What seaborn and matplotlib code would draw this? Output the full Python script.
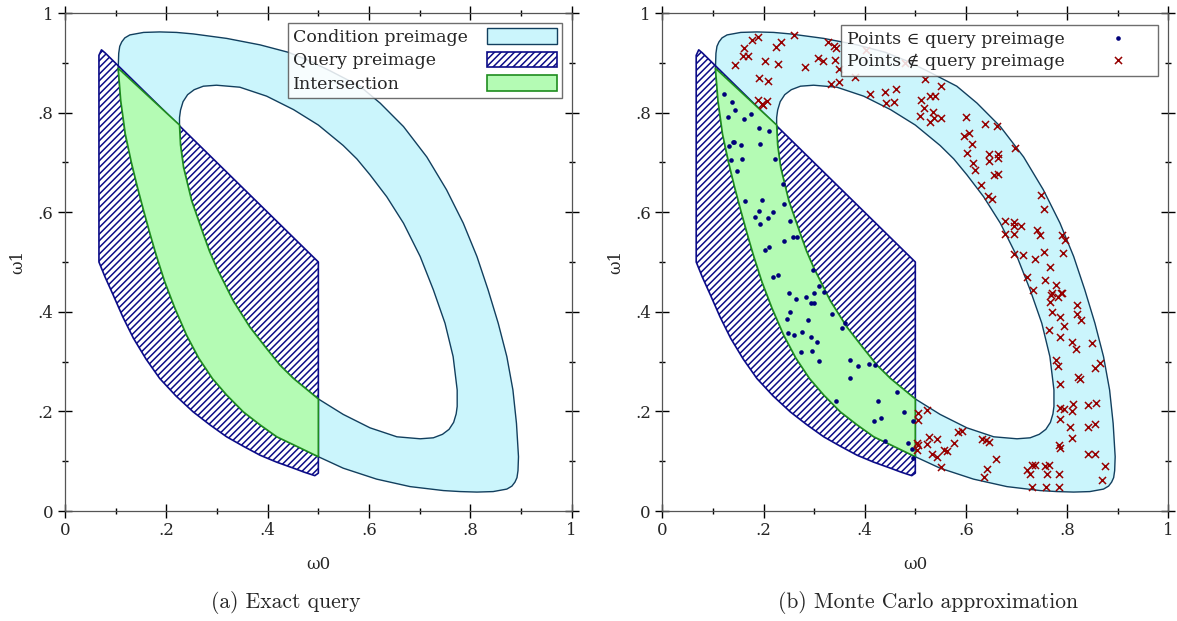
import numpy as np
import matplotlib.pyplot as plt
import matplotlib.patches as mpatches
from matplotlib.path import Path
import seaborn as sns

# outline of the condition preimage (outer edge and hole)
ring_outer_x = [0.105, 0.106, 0.108, 0.112, 0.118, 0.128, 0.155, 0.187, 0.220, 0.253,
                0.319, 0.385, 0.441, 0.480, 0.523, 0.582, 0.622, 0.668, 0.714, 0.753,
                0.786, 0.813, 0.835, 0.855, 0.872, 0.884, 0.891, 0.895, 0.894, 0.892,
                0.888, 0.882, 0.872, 0.845, 0.813, 0.780, 0.747, 0.681, 0.615, 0.549,
                0.500, 0.451, 0.418, 0.385, 0.352, 0.319, 0.291, 0.264, 0.240, 0.217,
                0.197, 0.180, 0.168, 0.155, 0.143, 0.131, 0.119, 0.110, 0.105]
ring_outer_y = [0.889, 0.919, 0.933, 0.942, 0.950, 0.956, 0.961, 0.962, 0.961, 0.958,
                0.949, 0.936, 0.921, 0.905, 0.884, 0.853, 0.819, 0.772, 0.711, 0.645,
                0.578, 0.511, 0.444, 0.377, 0.310, 0.243, 0.176, 0.109, 0.081, 0.067,
                0.058, 0.050, 0.044, 0.039, 0.038, 0.039, 0.041, 0.049, 0.064, 0.086,
                0.109, 0.133, 0.149, 0.173, 0.199, 0.233, 0.266, 0.307, 0.353, 0.407,
                0.460, 0.514, 0.556, 0.604, 0.650, 0.700, 0.757, 0.824, 0.889]
ring_inner_x = [0.226, 0.226, 0.228, 0.233, 0.242, 0.255, 0.273, 0.299, 0.345, 0.398,
                0.451, 0.500, 0.549, 0.576, 0.602, 0.635, 0.668, 0.701, 0.727, 0.750,
                0.766, 0.774, 0.774, 0.772, 0.767, 0.758, 0.745, 0.727, 0.701, 0.655,
                0.602, 0.549, 0.500, 0.451, 0.424, 0.398, 0.365, 0.332, 0.299, 0.285,
                0.273, 0.250, 0.234, 0.228, 0.226]
ring_inner_y = [0.775, 0.790, 0.805, 0.822, 0.836, 0.846, 0.853, 0.855, 0.851, 0.833,
                0.806, 0.775, 0.734, 0.707, 0.675, 0.631, 0.578, 0.511, 0.444, 0.377,
                0.310, 0.243, 0.210, 0.195, 0.178, 0.164, 0.154, 0.147, 0.145, 0.149,
                0.167, 0.194, 0.225, 0.266, 0.293, 0.326, 0.369, 0.422, 0.489, 0.522,
                0.556, 0.623, 0.690, 0.735, 0.775]

# query preimage outline
query_x = [0.067, 0.067, 0.072, 0.079, 0.500, 0.500, 0.493, 0.472, 0.451, 0.418, 0.385,
           0.352, 0.319, 0.286, 0.253, 0.219, 0.187, 0.160, 0.135, 0.114, 0.095, 0.079, 0.067]
query_y = [0.500, 0.915, 0.926, 0.920, 0.500, 0.076, 0.071, 0.078, 0.086, 0.098, 0.112,
           0.130, 0.149, 0.173, 0.199, 0.231, 0.266, 0.305, 0.347, 0.390, 0.434, 0.470, 0.500]

# intersection outline
inter_x = [0.105, 0.226, 0.228, 0.234, 0.250, 0.273, 0.285, 0.299, 0.332, 0.365, 0.398,
           0.424, 0.451, 0.500, 0.500, 0.451, 0.418, 0.385, 0.352, 0.319, 0.291, 0.264,
           0.240, 0.217, 0.197, 0.180, 0.168, 0.155, 0.143, 0.131, 0.119, 0.110, 0.105]
inter_y = [0.889, 0.775, 0.735, 0.690, 0.623, 0.556, 0.522, 0.489, 0.422, 0.369, 0.326,
           0.293, 0.266, 0.225, 0.109, 0.133, 0.149, 0.173, 0.199, 0.233, 0.266, 0.307,
           0.353, 0.407, 0.460, 0.514, 0.556, 0.604, 0.650, 0.700, 0.757, 0.824, 0.889]

# Monte Carlo samples
pts_in_x = [0.121, 0.138, 0.143, 0.129, 0.161, 0.175, 0.192, 0.211, 0.193, 0.132, 0.139,
            0.142, 0.155, 0.136, 0.158, 0.222, 0.148, 0.238, 0.164, 0.197, 0.192, 0.218,
            0.240, 0.183, 0.194, 0.209, 0.252, 0.240, 0.258, 0.267, 0.211, 0.202, 0.297,
            0.229, 0.219, 0.310, 0.320, 0.251, 0.265, 0.284, 0.299, 0.300, 0.293, 0.246,
            0.252, 0.287, 0.248, 0.260, 0.276, 0.293, 0.306, 0.275, 0.296, 0.310, 0.335,
            0.355, 0.362, 0.370, 0.371, 0.387, 0.408, 0.420, 0.344, 0.426, 0.464, 0.477,
            0.418, 0.432, 0.495, 0.441, 0.486, 0.494, 0.495]
pts_in_y = [0.837, 0.822, 0.805, 0.791, 0.787, 0.797, 0.769, 0.764, 0.736, 0.732, 0.740,
            0.740, 0.734, 0.704, 0.706, 0.707, 0.682, 0.656, 0.622, 0.625, 0.603, 0.600,
            0.617, 0.591, 0.577, 0.588, 0.583, 0.542, 0.550, 0.550, 0.530, 0.525, 0.484,
            0.474, 0.469, 0.452, 0.440, 0.438, 0.426, 0.430, 0.437, 0.418, 0.418, 0.385,
            0.399, 0.383, 0.358, 0.354, 0.360, 0.350, 0.339, 0.319, 0.322, 0.302, 0.395,
            0.368, 0.377, 0.303, 0.268, 0.292, 0.295, 0.293, 0.221, 0.220, 0.238, 0.199,
            0.181, 0.187, 0.181, 0.140, 0.136, 0.124, 0.107]
pts_out_x = [0.144, 0.162, 0.177, 0.190, 0.160, 0.170, 0.202, 0.229, 0.224, 0.234, 0.261,
             0.192, 0.209, 0.190, 0.197, 0.207, 0.199, 0.283, 0.308, 0.318, 0.327, 0.339,
             0.343, 0.342, 0.349, 0.333, 0.350, 0.381, 0.403, 0.410, 0.440, 0.462, 0.443,
             0.457, 0.480, 0.519, 0.550, 0.512, 0.518, 0.530, 0.538, 0.534, 0.509, 0.530,
             0.536, 0.551, 0.600, 0.597, 0.607, 0.612, 0.603, 0.638, 0.661, 0.698, 0.615,
             0.617, 0.646, 0.630, 0.644, 0.652, 0.646, 0.663, 0.663, 0.656, 0.664, 0.749,
             0.754, 0.678, 0.696, 0.696, 0.708, 0.678, 0.696, 0.740, 0.746, 0.789, 0.796,
             0.696, 0.712, 0.737, 0.754, 0.792, 0.766, 0.720, 0.756, 0.733, 0.779, 0.771,
             0.789, 0.782,
             0.766, 0.769, 0.787, 0.771, 0.786, 0.794, 0.765, 0.785, 0.809, 0.818, 0.820,
             0.820, 0.828, 0.850, 0.779, 0.782, 0.786, 0.786, 0.794, 0.786, 0.806, 0.809,
             0.812, 0.810, 0.821, 0.825, 0.855, 0.865, 0.841, 0.857, 0.841, 0.856, 0.841,
             0.855, 0.874, 0.868, 0.784, 0.786, 0.784, 0.784, 0.759, 0.760, 0.765, 0.756,
             0.730, 0.730, 0.720, 0.727, 0.737, 0.659, 0.636, 0.642, 0.639, 0.646, 0.632,
             0.592, 0.585, 0.577, 0.563, 0.556, 0.543, 0.551, 0.533, 0.524, 0.527, 0.543,
             0.505, 0.505, 0.523, 0.504, 0.506, 0.504]
pts_out_y = [0.896, 0.930, 0.946, 0.951, 0.914, 0.913, 0.903, 0.898, 0.932, 0.942, 0.955,
             0.870, 0.864, 0.825, 0.817, 0.823, 0.815, 0.892, 0.910, 0.904, 0.942, 0.934,
             0.930, 0.905, 0.888, 0.858, 0.862, 0.872, 0.925, 0.837, 0.842, 0.847, 0.820,
             0.821, 0.900, 0.868, 0.854, 0.825, 0.810, 0.833, 0.833, 0.801, 0.794, 0.781,
             0.790, 0.789, 0.791, 0.753, 0.759, 0.736, 0.718, 0.777, 0.773, 0.729, 0.698,
             0.684, 0.702, 0.654, 0.632, 0.627, 0.716, 0.716, 0.708, 0.674, 0.676, 0.635,
             0.607, 0.582, 0.581, 0.573, 0.573, 0.557, 0.557, 0.564, 0.554, 0.554, 0.544,
             0.517, 0.514, 0.506, 0.520, 0.518, 0.490, 0.470, 0.464, 0.443, 0.453, 0.437,
             0.437, 0.430,
             0.419, 0.434, 0.438, 0.400, 0.389, 0.372, 0.364, 0.349, 0.340, 0.325, 0.414,
             0.395, 0.384, 0.337, 0.303, 0.291, 0.256, 0.206, 0.205, 0.184, 0.169, 0.146,
             0.215, 0.200, 0.270, 0.266, 0.287, 0.297, 0.213, 0.216, 0.169, 0.174, 0.115,
             0.115, 0.090, 0.063, 0.132, 0.126, 0.075, 0.048, 0.048, 0.075, 0.092, 0.090,
             0.048, 0.092, 0.082, 0.075, 0.093, 0.104, 0.068, 0.085, 0.142, 0.139, 0.144,
             0.161, 0.159, 0.136, 0.120, 0.123, 0.109, 0.089, 0.115, 0.134, 0.149, 0.144,
             0.197, 0.183, 0.203, 0.137, 0.132, 0.122]

major_ticks = [0, 0.2, 0.4, 0.6, 0.8, 1]
major_labels = ['0', '.2', '.4', '.6', '.8', '1']
minor_ticks = [0.1, 0.3, 0.5, 0.7, 0.9]

legend_labels_a = ['Condition preimage', 'Query preimage', 'Intersection']
legend_labels_b = ['Points \u2208 query preimage', 'Points \u2209 query preimage']
captions = ['(a) Exact query', '(b) Monte Carlo approximation']

RING_FC = '#cbf5fc'
RING_EC = '#123f5e'
QUERY_EC = '#0c0c88'
INTER_FC = '#b4fbb4'
INTER_EC = '#1e8c1e'
DOT_C = '#00007a'
CROSS_C = '#960000'
HATCH = '/////'

sns.set_style("ticks")
plt.rcParams['font.family'] = ['DejaVu Serif', 'DejaVu Sans']
plt.rcParams['hatch.linewidth'] = 1.1


def closed_path(xs, ys):
    codes = [Path.MOVETO] + [Path.LINETO] * (len(xs) - 2) + [Path.CLOSEPOLY]
    return np.column_stack([xs, ys]), codes


def draw_regions(ax):
    v1, c1 = closed_path(ring_outer_x, ring_outer_y)
    v2, c2 = closed_path(ring_inner_x[::-1], ring_inner_y[::-1])
    ring = Path(np.vstack([v1, v2]), c1 + c2)
    ax.add_patch(mpatches.PathPatch(ring, facecolor=RING_FC, edgecolor=RING_EC, lw=1.0,
                                    joinstyle='round', zorder=1))
    ax.add_patch(mpatches.Polygon(np.column_stack([query_x, query_y]), closed=True,
                                  facecolor='none', edgecolor=QUERY_EC, hatch=HATCH,
                                  lw=1.2, joinstyle='round', zorder=2))
    ax.add_patch(mpatches.Polygon(np.column_stack([inter_x, inter_y]), closed=True,
                                  facecolor=INTER_FC, edgecolor=INTER_EC, lw=1.2,
                                  joinstyle='round', zorder=3))


def style_axes(ax, caption, cap_x):
    ax.set_xlim(0, 1)
    ax.set_ylim(0, 1)
    ax.set_xticks(major_ticks)
    ax.set_xticklabels(major_labels)
    ax.set_yticks(major_ticks)
    ax.set_yticklabels(major_labels)
    ax.set_xticks(minor_ticks, minor=True)
    ax.set_yticks(minor_ticks, minor=True)
    ax.tick_params(which='major', direction='inout', length=10.5, width=1, color='black',
                   top=True, right=True, labelsize=12, pad=3)
    ax.tick_params(which='minor', direction='inout', length=5, width=1, color='black',
                   top=True, right=True)
    for sp in ax.spines.values():
        sp.set_color('#555555')
        sp.set_linewidth(0.9)
    ax.set_xlabel('\u03c90', fontsize=12, labelpad=12)
    ax.set_ylabel('\u03c91', fontsize=12, labelpad=8)
    ax.text(cap_x, -0.183, caption, transform=ax.transAxes, ha='center', va='center',
            fontsize=15.5, family='cmr10')


def left_align_legend(fig, leg):
    # labels flush left, handles flush right, like the original
    fig.canvas.draw()
    rows = leg._legend_handle_box.get_children()[0].get_children()
    widths = [t.get_window_extent().width for t in leg.get_texts()]
    wmax = max(widths)
    for row, w in zip(rows, widths):
        row.sep = row.sep + (wmax - w) * 72.0 / fig.dpi


fig = plt.figure(figsize=(11.77, 6.21), dpi=100)
ax1 = fig.add_axes([65 / 1177, 1 - 511 / 621, 506.7 / 1177, 498 / 621])
ax2 = fig.add_axes([662.3 / 1177, 1 - 511 / 621, 506 / 1177, 498 / 621])

# (a) exact query
draw_regions(ax1)
style_axes(ax1, captions[0], 0.435)
handles_a = [mpatches.Patch(facecolor=RING_FC, edgecolor=RING_EC, lw=1.0),
             mpatches.Patch(facecolor='white', edgecolor=QUERY_EC, hatch=HATCH, lw=1.2),
             mpatches.Patch(facecolor=INTER_FC, edgecolor=INTER_EC, lw=1.2)]
leg_a = ax1.legend(handles_a, legend_labels_a, loc='upper right', bbox_to_anchor=(0.981, 0.98),
                   borderaxespad=0, markerfirst=False, handlelength=4.0, handleheight=1.0,
                   handletextpad=1.1, borderpad=0.3, labelspacing=0.33, fontsize=12.5,
                   fancybox=False, framealpha=0.85, edgecolor='#555555')
leg_a.get_frame().set_linewidth(1.0)

# (b) Monte Carlo approximation
draw_regions(ax2)
sns.scatterplot(x=pts_in_x, y=pts_in_y, ax=ax2, color=DOT_C, s=11, linewidth=0,
                zorder=5, label=legend_labels_b[0])
sns.scatterplot(x=pts_out_x, y=pts_out_y, ax=ax2, color=CROSS_C, marker='x', s=26,
                linewidth=1.1, zorder=5, label=legend_labels_b[1])
style_axes(ax2, captions[1], 0.525)
h_b, l_b = ax2.get_legend_handles_labels()
leg_b = ax2.legend(h_b, l_b, loc='upper right', bbox_to_anchor=(0.98, 0.975),
                   borderaxespad=0, markerfirst=False, handlelength=4.0, handletextpad=1.1,
                   borderpad=0.3, labelspacing=0.33, fontsize=12.5, scatterpoints=1,
                   scatteryoffsets=[0.5], fancybox=False, framealpha=0.85,
                   edgecolor='#555555')
leg_b.get_frame().set_linewidth(1.0)

left_align_legend(fig, leg_a)
left_align_legend(fig, leg_b)

fig.savefig('out.png', dpi=100)
